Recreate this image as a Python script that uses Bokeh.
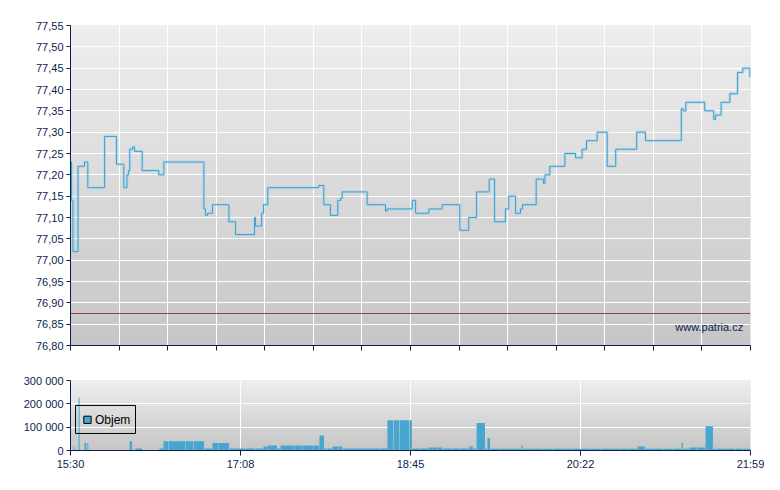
import numpy as np
from bokeh.plotting import figure
from bokeh.layouts import column
from bokeh.models import Range1d, FixedTicker, CustomJSTickFormatter, Span, Label, BoxAnnotation
from bokeh.embed import file_html
from bokeh.resources import INLINE

# ---- data (minutes after 15:30) ----
session_minutes = 389
x_tick_labels = ["15:30", "17:08", "18:45", "20:22", "21:59"]
prev_close = 76.875
legend_label = "Objem"
watermark = "www.patria.cz"

price_time = [0.0, 0.6, 1.4, 4.3, 8.0, 9.9, 19.5, 26.3, 30.5, 32.3, 33.2, 33.9, 35.5, 36.6,
              41.0, 50.5, 53.4, 76.3, 77.2, 78.4, 81.2, 90.6, 94.4, 105.3, 105.8, 109.3,
              110.4, 112.9, 142.0, 144.9, 148.7, 152.9, 154.5, 155.4, 169.7, 180.2, 181.1,
              195.5, 197.4, 205.0, 212.6, 222.7, 227.8, 232.3, 239.5, 242.6, 248.8, 250.7,
              254.6, 257.4, 258.6, 266.4, 270.6, 271.4, 274.2, 282.8, 288.9, 292.7, 295.2,
              301.3, 307.0, 311.9, 323.9, 328.9, 349.4, 350.4, 352.0, 362.8, 368.0, 369.0,
              372.2, 377.2, 381.6, 384.6, 388.6, 389.0]
price_value = [77.23, 77.14, 77.02, 77.22, 77.23, 77.17, 77.29, 77.225, 77.17, 77.20, 77.21,
               77.26, 77.265, 77.255, 77.21, 77.20, 77.23, 77.12, 77.105, 77.11, 77.13, 77.09,
               77.06, 77.10, 77.08, 77.11, 77.13, 77.17, 77.175, 77.13, 77.105, 77.14, 77.145,
               77.16, 77.13, 77.115, 77.12, 77.14, 77.11, 77.12, 77.13, 77.07, 77.10, 77.16,
               77.19, 77.09, 77.12, 77.15, 77.11, 77.12, 77.13, 77.19, 77.18, 77.20, 77.22,
               77.25, 77.24, 77.26, 77.28, 77.30, 77.22, 77.26, 77.30, 77.28, 77.355, 77.35,
               77.37, 77.35, 77.33, 77.34, 77.37, 77.39, 77.44, 77.45, 77.43, 77.43]

vol_start = [1.7, 2.5, 4.6, 5.5, 8.0, 9.4, 9.7, 10.5, 33.8, 35.5, 37.2, 41.2, 50.9, 53.2, 56.1,
             65.8, 70.4, 76.7, 81.2, 84.7, 91.0, 95.5, 100.1, 105.3, 105.8, 108.1, 110.4,
             112.7, 118.4, 120.1, 128.1, 132.7, 139.0, 142.4, 145.3, 147.0, 149.9, 153.3,
             155.6, 160.0, 164.5, 169.0, 173.5, 177.5, 181.3, 184.8, 188.2, 193.9, 195.6,
             200.0, 204.8, 209.9, 212.8, 218.0, 223.0, 228.2, 230.5, 232.3, 237.4, 238.5,
             240.3, 246.0, 251.0, 254.5, 258.0, 259.1, 265.0, 270.5, 276.0, 281.5, 287.0,
             292.5, 298.0, 303.5, 309.0, 314.5, 319.5, 324.4, 328.9, 334.0, 339.5, 344.5,
             349.5, 350.6, 354.1, 358.5, 363.3, 367.8, 369.0, 369.5, 375.0, 380.5, 385.0]
vol_value = [17000, 0, 226000, 0, 32000, 0, 32000, 0, 40000, 0, 9000, 0, 9000, 40000, 40000,
             40000, 40000, 9000, 32000, 32000, 9000, 9000, 9000, 17000, 9000, 9000, 17000,
             21000, 9000, 21000, 21000, 21000, 21000, 64000, 9000, 9000, 17000, 17000,
             9000, 9000, 9000, 9000, 9000, 9000, 130000, 130000, 130000, 130000, 9000,
             9000, 13000, 13000, 9000, 9000, 9000, 17000, 9000, 118000, 9000, 52000,
             8000, 8000, 8000, 8000, 21000, 7000, 7000, 7000, 7000, 7000, 7000,
             7000, 7000, 7000, 7000, 7000, 7000, 17000, 7000, 7000, 7000, 7000,
             32000, 7000, 13000, 13000, 104000, 7000, 21000, 7000, 7000, 7000, 7000]

# ---- styles ----
NAVY = "#0a1e4e"
BLUE = "#46a6cf"
FONT = "Liberation Sans"


def gradient(n=200, top=238, bottom=198):
    img = np.empty((n, 1), dtype=np.uint32)
    view = img.view(dtype=np.uint8).reshape((n, 1, 4))
    for i in range(n):
        c = int(round(bottom + (top - bottom) * i / (n - 1)))
        view[i, 0, :] = [c, c, c, 255]
    return img


def style_axes(p):
    for ax in (p.xaxis[0], p.yaxis[0]):
        ax.axis_line_color = NAVY
        ax.major_tick_line_color = NAVY
        ax.minor_tick_line_color = None
        ax.major_tick_in = 0
        ax.major_label_text_color = NAVY
        ax.major_label_text_font = FONT
        ax.major_label_text_font_size = "11px"
    p.xaxis.major_tick_out = 5
    p.yaxis.major_tick_out = 4
    p.yaxis.major_label_standoff = 3
    p.xaxis.major_label_standoff = 2
    p.grid.grid_line_color = "white"
    p.grid.grid_line_width = 1
    p.outline_line_color = None
    p.background_fill_color = "#dddddd"
    p.border_fill_color = "white"


# ---- price chart ----
y0, y1 = 76.80, 77.55
p = figure(width=768, height=365, title=None,
           x_range=Range1d(0, session_minutes), y_range=Range1d(y0, y1),
           output_backend="svg", toolbar_location=None,
           min_border_left=70, min_border_right=18, min_border_top=25, min_border_bottom=20)
p.image_rgba(image=[gradient()], x=0, y=y0, dw=session_minutes, dh=y1 - y0, level="image")
style_axes(p)
top_ticks = [session_minutes * k / 14 for k in range(15)]
p.xaxis.ticker = FixedTicker(ticks=top_ticks)
p.xgrid.ticker = FixedTicker(ticks=top_ticks)
p.xaxis.formatter = CustomJSTickFormatter(code="return '';")
y_ticks = [round(y0 + 0.05 * k, 2) for k in range(16)]
p.yaxis.ticker = FixedTicker(ticks=y_ticks)
p.ygrid.ticker = FixedTicker(ticks=y_ticks)
p.yaxis.formatter = CustomJSTickFormatter(code="return tick.toFixed(2).replace('.', ',');")

p.add_layout(Span(location=prev_close, dimension="width", line_color="#a83c3c", line_width=1))
p.step(x=price_time, y=price_value, mode="after", line_color="#a6d3ea", line_width=3, line_alpha=0.55)
p.step(x=price_time, y=price_value, mode="after", line_color="#3f9fcc", line_width=1)
p.add_layout(Label(x=384.8, y=76.843, text=watermark, text_align="right",
                   text_baseline="alphabetic", text_color=NAVY, text_font=FONT,
                   text_font_size="11px"))

# ---- volume chart ----
v = figure(width=768, height=115, title=None,
           x_range=Range1d(0, session_minutes), y_range=Range1d(0, 300000),
           output_backend="svg", toolbar_location=None,
           min_border_left=70, min_border_right=18, min_border_top=15, min_border_bottom=30)
v.image_rgba(image=[gradient()], x=0, y=0, dw=session_minutes, dh=300000, level="image")
style_axes(v)
bottom_ticks = [session_minutes * k / 4 for k in range(5)]
v.xaxis.ticker = FixedTicker(ticks=bottom_ticks)
v.xgrid.ticker = FixedTicker(ticks=bottom_ticks)
v.xaxis.major_label_overrides = {t: lab for t, lab in zip(bottom_ticks, x_tick_labels)}
v.yaxis.ticker = FixedTicker(ticks=[0, 100000, 200000, 300000])
v.ygrid.ticker = FixedTicker(ticks=[0, 100000, 200000, 300000])
v.yaxis.formatter = CustomJSTickFormatter(
    code="return Math.round(tick).toString().replace(/\\B(?=(\\d{3})+(?!\\d))/g, ' ');")

gap = 0.3
rights = [s - gap for s in vol_start[1:]] + [session_minutes]
v.quad(left=vol_start, right=rights, bottom=0, top=vol_value,
       fill_color=BLUE, line_color=None)

# legend box (drawn as annotations)
v.add_layout(BoxAnnotation(left=2.9, right=37.2, bottom=73000, top=193000,
                           fill_alpha=0, line_color="black", line_width=1, line_alpha=1,
                           editable=False))
v.add_layout(BoxAnnotation(left=7.6, right=11.8, bottom=116000, top=147000,
                           fill_color=BLUE, fill_alpha=1, line_color="black",
                           line_width=1, line_alpha=1))
v.add_layout(Label(x=14.0, y=131500, text=legend_label, text_align="left",
                   text_baseline="middle", text_color="black", text_font=FONT,
                   text_font_size="12px"))

layout = column(p, v, spacing=0)
open("out.html", "w").write(file_html(layout, INLINE))
